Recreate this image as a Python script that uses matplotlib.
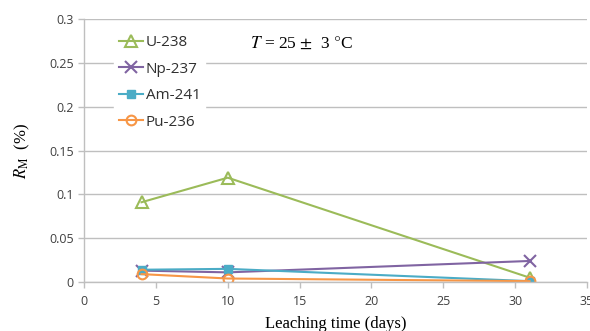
import matplotlib
matplotlib.use("Agg")
import matplotlib.pyplot as plt

# leaching data
days = [4, 10, 31]
u238 = [0.091, 0.119, 0.005]
np237 = [0.013, 0.011, 0.024]
am241 = [0.014, 0.015, 0.001]
pu236 = [0.009, 0.004, 0.001]

xticks = [0, 5, 10, 15, 20, 25, 30, 35]
yticks = [0, 0.05, 0.1, 0.15, 0.2, 0.25, 0.3]
ylabels = ["0", "0.05", "0.1", "0.15", "0.2", "0.25", "0.3"]

plt.rcParams['font.family'] = ['Open Sans', 'DejaVu Sans']
plt.rcParams['mathtext.fontset'] = 'stix'

fig = plt.figure(figsize=(5.9, 3.31), dpi=100)
ax = fig.add_axes([0.1424, 0.148, 0.8526, 0.7946])

ax.plot(days, u238, color='#9BBB59', marker='^', ms=8, mfc='none', mew=1.5, lw=1.5, label='U-238')
ax.plot(days, np237, color='#8064A2', marker='x', ms=8, mew=1.5, lw=1.5, label='Np-237')
ax.plot(days, am241, color='#4BACC6', marker='s', ms=6, lw=1.5, label='Am-241')
ax.plot(days, pu236, color='#F79646', marker='o', ms=7, mfc='none', mew=1.5, lw=1.5, label='Pu-236')

ax.set_xlim(0, 35)
ax.set_ylim(0, 0.3)
ax.set_xticks(xticks)
ax.set_yticks(yticks)
ax.set_yticklabels(ylabels)
ax.tick_params(labelsize=9, colors='#404040', length=4, width=1)
ax.tick_params(axis='both', color='#BFBFBF')
ax.tick_params(axis='x', pad=5)
ax.yaxis.grid(True, color='#BFBFBF', lw=1)
ax.set_axisbelow(True)
for s in ['top', 'right']:
    ax.spines[s].set_visible(False)
for s in ['left', 'bottom']:
    ax.spines[s].set_color('#BFBFBF')
    ax.spines[s].set_linewidth(1)

ax.set_xlabel('Leaching time (days)', family='Liberation Serif', fontsize=12, labelpad=6)
ax.set_ylabel(r'$R_{\mathrm{M}}$  (%)', family='Liberation Serif', fontsize=12, labelpad=12)

ax.text(0.33, 0.905, r'$T$ = 25 $\pm$  3 $\degree$C', transform=ax.transAxes,
        family='Liberation Serif', fontsize=12.5, va='center')

leg = ax.legend(loc='upper left', bbox_to_anchor=(0.045, 0.985), fontsize=11,
                frameon=True, fancybox=False, edgecolor='white', facecolor='white',
                framealpha=1, handlelength=1.6, handletextpad=0.15, labelspacing=0.75,
                borderpad=0.3)
for t in leg.get_texts():
    t.set_color('#303030')

fig.savefig('out.png', dpi=100)
